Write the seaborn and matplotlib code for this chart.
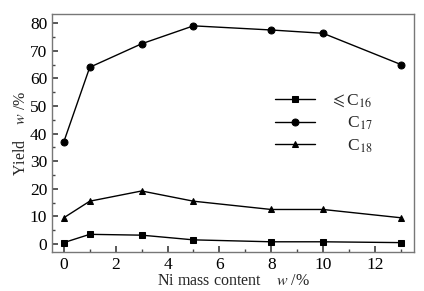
import matplotlib
matplotlib.use("Agg")
import matplotlib.pyplot as plt
import numpy as np
import pandas as pd
import seaborn as sns
from matplotlib.ticker import MultipleLocator

# Données
ni_content = [0, 1, 3, 5, 8, 10, 13]
yield_c16 = [0.5, 3.5, 3.2, 1.5, 0.8, 0.8, 0.5]
yield_c17 = [37.0, 64.0, 72.5, 79.0, 77.5, 76.3, 65.0]
yield_c18 = [9.5, 15.5, 19.2, 15.5, 12.5, 12.5, 9.5]
series_labels = [r"$\leqslant$C$_{16}$", "    C$_{17}$", "    C$_{18}$"]

df = pd.DataFrame({
    "ni": ni_content * 3,
    "yield": yield_c16 + yield_c17 + yield_c18,
    "serie": [series_labels[0]] * 7 + [series_labels[1]] * 7 + [series_labels[2]] * 7,
})

sns.set_theme(style="ticks")
plt.rcParams["font.family"] = ["Liberation Serif", "DejaVu Serif"]
plt.rcParams["mathtext.fontset"] = "stix"

fig = plt.figure(figsize=(4.24, 2.91), dpi=100)
ax = fig.add_axes([0.123, 0.134, 0.853, 0.818])

markers = ["s", "o", "^"]
for lab, mk in zip(series_labels, markers):
    sub = df[df["serie"] == lab]
    sns.lineplot(data=sub, x="ni", y="yield", ax=ax, color="black", lw=1.0,
                 marker=mk, markersize=5, markeredgecolor="black", label=lab)

ax.set_xlim(-0.45, 13.5)
ax.set_ylim(-2.9, 83.3)
ax.xaxis.set_major_locator(MultipleLocator(2))
ax.xaxis.set_minor_locator(MultipleLocator(1))
ax.yaxis.set_major_locator(MultipleLocator(10))
ax.yaxis.set_minor_locator(MultipleLocator(5))
ax.tick_params(which="both", direction="in", colors="#444444", labelcolor="black",
               labelsize=12.5)
ax.tick_params(which="major", length=4)
ax.tick_params(which="minor", length=2)
for s in ax.spines.values():
    s.set_color("#777777")
    s.set_linewidth(1.0)

ax.set_xlabel("Ni mass content    $w$ /%", fontsize=11.5, labelpad=0)
ax.set_ylabel("Yield    $w$ /%", fontsize=11.5, labelpad=1)

ax.legend(loc="upper left", bbox_to_anchor=(0.572, 0.735), frameon=False,
          handlelength=2.3, handletextpad=0.9, labelspacing=0.3, fontsize=12.5)

plt.savefig("out.png", dpi=100)
plt.close()
